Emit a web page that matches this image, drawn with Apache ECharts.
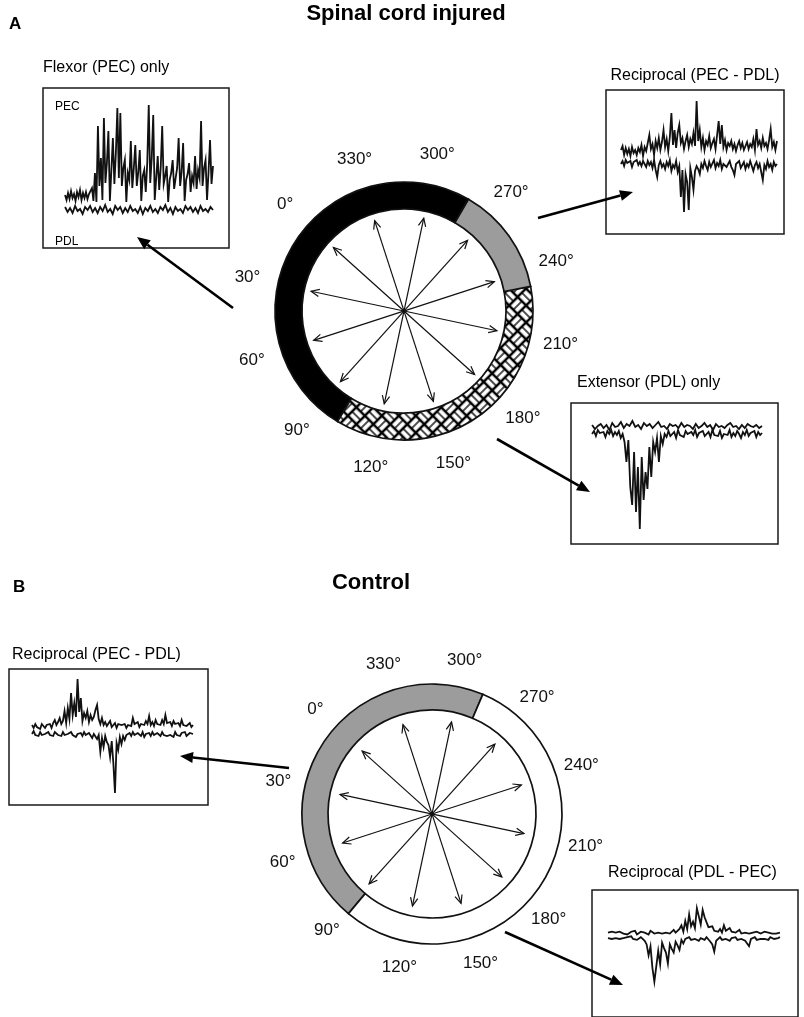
<!DOCTYPE html>
<html>
<head>
<meta charset="utf-8">
<script src="https://cdn.jsdelivr.net/npm/echarts@6/dist/echarts.min.js"></script>
<style>
  html, body { margin: 0; padding: 0; background: #fff; }
  #chart { width: 804px; height: 1017px; }
</style>
</head>
<body>
<div id="chart"></div>
<script>
// ---- Stimulus directions (degrees) shown around each ring ----
const directionLabels = [0, 30, 60, 90, 120, 150, 180, 210, 240, 270, 300, 330];
// each stimulus axis is drawn as one double-headed arrow
const arrowAxes = [0, 30, 60, 90, 120, 150];

// ---- Response sectors (start/end in degrees; end < start wraps through 0) ----
const sciStart = [282, 101, 233];
const sciEnd   = [101, 233, 282];
const sciType  = ['flexor', 'extensor', 'reciprocal'];

const ctlStart = [289, 92];
const ctlEnd   = [92, 289];
const ctlType  = ['reciprocal', 'none'];

// ---- EMG traces (PEC upward, PDL downward), arbitrary units ----
const flexorPEC = [3,-2,5,-1,7,0,4,-3,6,1,8,-2,5,0,6,-1,4,2,
  10,-3,25,-4,72,12,40,-2,80,15,
  35,67,-3,28,60,14,45,90,20,85,
  12,30,38,-4,25,18,57,10,30,53,
  12,26,48,-3,22,28,6,35,93,15,
  40,83,-2,20,42,8,30,72,14,22,
  32,-4,18,25,38,9,20,30,60,12,
  26,55,-3,18,24,35,6,22,15,42,
  9,28,20,77,12,30,38,-2,26,58,14,32];
const flexorPDL = [2,-3,1,-4,3,-2,0,-5,2,-1,3,-3,1,-4,2,-2,4,-3,0,-5,
  3,-1,2,-4,1,-3,3,-2,0,-4,2,-5,1,-2,3,-3,0,-4,2,-1,
  4,-3,1,-5,2,-2,0,-4,3,-1,2,-3,1,-4,3,-2,0,-3,2,-1];

const recipPEC = [3,7,-2,5,-1,4,-3,6,0,3,
  -2,5,1,8,-3,6,2,10,18,4,
  9,-2,12,5,15,3,11,23,6,14,
  2,16,40,8,23,5,20,28,10,15,
  4,12,18,6,14,9,20,7,52,12,
  23,6,15,3,12,8,17,5,10,14,
  4,18,32,9,28,6,13,3,10,7,
  12,4,9,2,8,12,5,10,3,7,
  11,4,9,6,14,3,24,8,12,5,
  15,7,10,4,13,24,6,11,3,12];
const recipPDL = [-2,1,-4,2,-1,-3,1,-5,0,-2,
  2,-3,0,-4,1,-2,-5,1,-3,0,
  -6,2,-8,-15,-3,1,-5,-2,-7,0,
  -4,2,-9,-3,-6,1,-10,-4,-35,-8,
  -50,-12,-20,-48,-6,-15,-28,-9,-4,-7,
  -12,-2,-6,1,-4,-8,0,-5,-3,2,
  -6,-1,-4,2,-7,-2,0,-5,-3,1,
  -5,-8,-13,-2,-4,1,-6,-3,0,-7,
  -2,-5,1,-4,-9,-3,0,-6,-2,-4,
  -18,-3,-7,1,-5,-2,-8,0,-4,-2];

const extensorPEC = [3,-1,2,4,0,3,-2,5,1,2,6,0,4,2,7,1,3,-1,5,2,
  4,0,3,6,1,2,-1,4,2,3,0,5,1,3,2,-1,4,0,2,5,
  1,3,-2,4,1,2,0,3,5,1,2,-1,3,0,4,2,1,3,0,2];
const extensorPDL = [-2,1,-4,2,-1,-3,0,-5,1,-2,
  2,-4,0,-3,1,-6,-2,-10,-30,-8,
  -55,-73,-20,-80,-35,-97,-25,-68,-40,-57,
  -15,-45,-10,-20,-6,-30,-4,-12,-2,-5,
  1,-4,-2,0,-6,2,-3,-1,-5,1,
  -2,-4,0,-3,2,-5,-1,-3,1,-4,
  -2,0,-5,2,-3,-1,-4,1,-6,-2,
  0,-3,2,-5,-1,-4,1,-2,-6,0,
  -3,2,-4,-1,-2,1,-5,0,-3,-1];

const ctlRecipPEC = [2,-1,3,0,2,-2,3,1,-1,2,
  0,3,-1,4,7,2,5,9,3,6,
  16,4,19,8,34,12,24,10,48,15,
  29,6,14,9,16,5,12,7,10,17,
  22,8,3,9,2,5,1,3,6,0,
  2,4,-1,3,1,2,0,3,-1,2,
  4,1,9,3,2,5,0,3,4,2,
  6,3,11,2,5,1,7,3,4,2,
  7,3,12,4,2,5,1,6,3,2,
  4,1,7,2,3,1,2,4,0,2];
const ctlRecipPDL = [-1,2,-2,0,-3,1,-2,0,-1,-3,
  1,-2,0,-3,1,-1,-2,0,-3,1,
  -2,0,-1,-3,1,-2,0,-4,-1,-2,
  0,-3,1,-2,-4,0,-2,-5,-1,-3,
  -6,-2,-19,-5,-14,-3,-9,-12,-24,-8,
  -30,-60,-10,-17,-4,-11,-3,-7,-2,-4,
  0,-3,1,-2,-4,0,-2,-3,1,-4,
  -1,-2,0,-3,1,-2,-4,0,-1,-3,
  1,-2,0,-3,-1,-2,0,-4,1,-2,
  -1,-3,0,-2,1,-3,-1,0,-2,-1];

const ctlRevPEC = [1,-1,2,0,1,-1,2,1,0,2,
  -1,1,2,0,3,-1,1,2,0,1,
  2,-1,3,1,0,2,1,3,0,2,
  1,3,0,2,4,1,3,5,9,2,
  14,5,21,8,13,6,28,29,10,26,
  18,19,7,5,8,3,4,2,5,1,
  9,3,4,6,2,3,1,2,4,0,
  2,1,3,0,2,1,0,2,1,0,
  1,2,0,1,2,0,1,0,2,1];
const ctlRevPDL = [-1,1,-2,0,-1,1,-2,0,-1,-2,
  0,-1,1,-2,0,-3,-1,0,-2,-4,
  -8,-20,-10,-34,-49,-51,-15,-30,-6,-12,
  -17,-29,-8,-13,-17,-5,-9,-14,-3,-7,
  -2,-4,0,-3,-1,-2,0,-4,-1,-2,
  -3,0,-2,-5,-8,-16,-4,-2,0,-3,
  -1,-2,0,-4,-1,-2,0,-3,-1,-2,
  0,-4,-3,-10,-2,-1,0,-3,-1,-2,
  0,-2,-1,-3,0,-1,-2,0,-1,0];

// ---------------------------------------------------------------------------
const FONT = '"Liberation Sans", Arial, Helvetica, sans-serif';

// basket-weave tile (two strands per cell, alternating direction), turned 45° when used
function makeWeave() {
  const s = 12, n = 2 * s;
  const c = document.createElement('canvas');
  c.width = n; c.height = n;
  const g = c.getContext('2d');
  g.fillStyle = '#000'; g.fillRect(0, 0, n, n);
  g.fillStyle = '#fff';
  const horiz = (ox, oy) => { g.fillRect(ox + 1.2, oy + 1.3, s - 2.4, 4); g.fillRect(ox + 1.2, oy + 6.7, s - 2.4, 4); };
  const vert = (ox, oy) => { g.fillRect(ox + 1.3, oy + 1.2, 4, s - 2.4); g.fillRect(ox + 6.7, oy + 1.2, 4, s - 2.4); };
  horiz(0, 0); vert(s, 0); vert(0, s); horiz(s, s);
  return c;
}
const weave = { image: makeWeave(), repeat: 'repeat', rotation: Math.PI / 4 };
const sectorFill = { flexor: '#000', extensor: weave, reciprocal: '#9c9c9c', none: '#fff' };

// ring of response sectors in a polar system
function ringSeries(polarIndex, starts, ends, types, rIn, rOut) {
  return {
    type: 'custom', coordinateSystem: 'polar', polarIndex, silent: true, z: 2,
    data: starts.map((s) => [0, s]),
    renderItem(params, api) {
      const i = params.dataIndex;
      const cs = params.coordSys;
      const pS = api.coord([rOut, starts[i]]);
      const pE = api.coord([rOut, ends[i]]);
      const qS = api.coord([rIn, starts[i]]);
      const a0 = Math.atan2(pS[1] - cs.cy, pS[0] - cs.cx);
      let a1 = Math.atan2(pE[1] - cs.cy, pE[0] - cs.cx);
      // angles grow counter-clockwise on screen
      while (a1 >= a0) a1 -= 2 * Math.PI;
      return {
        type: 'sector',
        shape: {
          cx: cs.cx, cy: cs.cy,
          r: Math.hypot(pS[0] - cs.cx, pS[1] - cs.cy),
          r0: Math.hypot(qS[0] - cs.cx, qS[1] - cs.cy),
          startAngle: a0, endAngle: a1, clockwise: false
        },
        style: { fill: sectorFill[types[i]], stroke: '#111', lineWidth: 1.7 }
      };
    }
  };
}

// double-headed direction arrows
function arrowSeries(polarIndex, tipR) {
  function head(tip, cs) {
    const dx = cs.cx - tip[0], dy = cs.cy - tip[1];
    const len = Math.hypot(dx, dy);
    const bx = dx / len, by = dy / len, L = 9, A = 0.42;
    const w = (s) => [tip[0] + L * (bx * Math.cos(s * A) - by * Math.sin(s * A)),
                      tip[1] + L * (bx * Math.sin(s * A) + by * Math.cos(s * A))];
    return { type: 'polyline', shape: { points: [w(1), tip, w(-1)] },
             style: { stroke: '#111', lineWidth: 1.2, fill: null } };
  }
  return {
    type: 'custom', coordinateSystem: 'polar', polarIndex, silent: true, z: 3,
    data: arrowAxes.map((d) => [0, d]),
    renderItem(params, api) {
      const d = arrowAxes[params.dataIndex];
      const cs = params.coordSys;
      const a = api.coord([tipR, d]);
      const b = api.coord([tipR, d + 180]);
      return {
        type: 'group',
        children: [
          { type: 'line', shape: { x1: a[0], y1: a[1], x2: b[0], y2: b[1] },
            style: { stroke: '#111', lineWidth: 1.2 } },
          head(a, cs), head(b, cs)
        ]
      };
    }
  };
}

// direction labels around the ring
function labelSeries(polarIndex, labelR) {
  return {
    type: 'custom', coordinateSystem: 'polar', polarIndex, silent: true, z: 3,
    data: directionLabels.map((d) => [0, d]),
    renderItem(params, api) {
      const d = directionLabels[params.dataIndex];
      const p = api.coord([labelR, d]);
      return {
        type: 'text', x: p[0], y: p[1],
        style: { text: d + '°', align: 'center', verticalAlign: 'middle',
                 textAlign: 'center', textVerticalAlign: 'middle',
                 font: '17px ' + FONT, fill: '#111' }
      };
    }
  };
}

// EMG insets: box = [left, top, width, height]
const insets = [
  { box: [43, 88, 186, 160],  x: [-14.9, 110.8], pec: [-50, 110], pdl: [-39, 121], pecData: flexorPEC,   pdlData: flexorPDL },
  { box: [606, 90, 178, 144], x: [-9.6, 104.5],  pec: [-81, 63],  pdl: [-72, 72],  pecData: recipPEC,    pdlData: recipPDL },
  { box: [571, 403, 207, 141], x: [-12.4, 109.4], pec: [-116, 25], pdl: [-112, 29], pecData: extensorPEC, pdlData: extensorPDL },
  { box: [9, 669, 199, 136],  x: [-14.3, 109.3], pec: [-78, 58],  pdl: [-72, 64],  pecData: ctlRecipPEC, pdlData: ctlRecipPDL },
  { box: [592, 890, 206, 140], x: [-9.3, 110.5], pec: [-92, 48],  pdl: [-88, 52],  pecData: ctlRevPEC,   pdlData: ctlRevPDL }
];
const toXY = (arr) => arr.map((v, i) => [i * 100 / (arr.length - 1), v]);
const hiddenAxis = { show: false };

const grids = [], xAxes = [], yAxes = [], traceSeries = [];
insets.forEach((s, g) => {
  grids.push({ left: s.box[0], top: s.box[1], width: s.box[2], height: s.box[3],
               show: true, borderColor: '#1a1a1a', borderWidth: 1.5, backgroundColor: '#fff' });
  xAxes.push(Object.assign({ gridIndex: g, type: 'value', min: s.x[0], max: s.x[1] }, hiddenAxis));
  yAxes.push(Object.assign({ gridIndex: g, type: 'value', min: s.pec[0], max: s.pec[1] }, hiddenAxis));
  yAxes.push(Object.assign({ gridIndex: g, type: 'value', min: s.pdl[0], max: s.pdl[1] }, hiddenAxis));
  [[s.pecData, 2 * g], [s.pdlData, 2 * g + 1]].forEach(([arr, yi]) => {
    traceSeries.push({
      type: 'line', xAxisIndex: g, yAxisIndex: yi, data: toXY(arr),
      symbol: 'none', silent: true, z: 3,
      lineStyle: { color: '#111', width: 1.8, join: 'miter' }
    });
  });
});

// text
function txt(text, x, y, size, align, bold) {
  return { type: 'text', x, y, z: 100,
    style: { text, font: (bold ? 'bold ' : '') + size + 'px ' + FONT, fill: '#000',
             align, textAlign: align, verticalAlign: 'middle', textVerticalAlign: 'middle' } };
}
// pointer arrows from the rings to the example recordings
function pointer(x1, y1, x2, y2) {
  const len = Math.hypot(x2 - x1, y2 - y1);
  const ux = (x2 - x1) / len, uy = (y2 - y1) / len;
  const L = 13, W = 5.5;
  const bx = x2 - ux * L, by = y2 - uy * L;
  return [
    { type: 'line', z: 100, shape: { x1, y1, x2: bx, y2: by }, style: { stroke: '#000', lineWidth: 2.6 } },
    { type: 'polygon', z: 100, shape: { points: [[x2, y2], [bx - uy * W, by + ux * W], [bx + uy * W, by - ux * W]] },
      style: { fill: '#000' } }
  ];
}

const polarAxisOff = { axisLine: { show: false }, axisTick: { show: false },
                       axisLabel: { show: false }, splitLine: { show: false } };

const option = {
  animation: false,
  backgroundColor: '#fff',
  textStyle: { fontFamily: FONT },
  polar: [
    { center: [404, 311], radius: 129 },
    { center: [432, 814], radius: 130 }
  ],
  angleAxis: [
    Object.assign({ polarIndex: 0, type: 'value', min: 0, max: 360, interval: 30, startAngle: 138, clockwise: false }, polarAxisOff),
    Object.assign({ polarIndex: 1, type: 'value', min: 0, max: 360, interval: 30, startAngle: 138, clockwise: false }, polarAxisOff)
  ],
  radiusAxis: [
    Object.assign({ polarIndex: 0, type: 'value', min: 0, max: 129 }, polarAxisOff),
    Object.assign({ polarIndex: 1, type: 'value', min: 0, max: 130 }, polarAxisOff)
  ],
  grid: grids,
  xAxis: xAxes,
  yAxis: yAxes,
  series: [
    ringSeries(0, sciStart, sciEnd, sciType, 102, 129),
    arrowSeries(0, 95),
    labelSeries(0, 160),
    ringSeries(1, ctlStart, ctlEnd, ctlType, 104, 130),
    arrowSeries(1, 94),
    labelSeries(1, 157)
  ].concat(traceSeries),
  graphic: [
    txt('A', 9, 24, 17, 'left', true),
    txt('Spinal cord injured', 406, 14, 22, 'center', true),
    txt('B', 13, 587, 17, 'left', true),
    txt('Control', 371, 583, 22, 'center', true),
    txt('Flexor (PEC) only', 43, 68, 16, 'left', false),
    txt('Reciprocal (PEC - PDL)', 695, 76, 16, 'center', false),
    txt('Extensor (PDL) only', 577, 383, 16, 'left', false),
    txt('Reciprocal (PEC - PDL)', 12, 655, 16, 'left', false),
    txt('Reciprocal (PDL - PEC)', 608, 873, 16, 'left', false),
    txt('PEC', 55, 107, 12, 'left', false),
    txt('PDL', 55, 242, 12, 'left', false)
  ].concat(
    pointer(233, 308, 137, 237),
    pointer(538, 218, 633, 192),
    pointer(497, 439, 590, 492),
    pointer(289, 768, 180, 756),
    pointer(505, 932, 623, 985)
  )
};

const chart = echarts.init(document.getElementById('chart'), null, { renderer: 'canvas' });
chart.setOption(option);
</script>
</body>
</html>
